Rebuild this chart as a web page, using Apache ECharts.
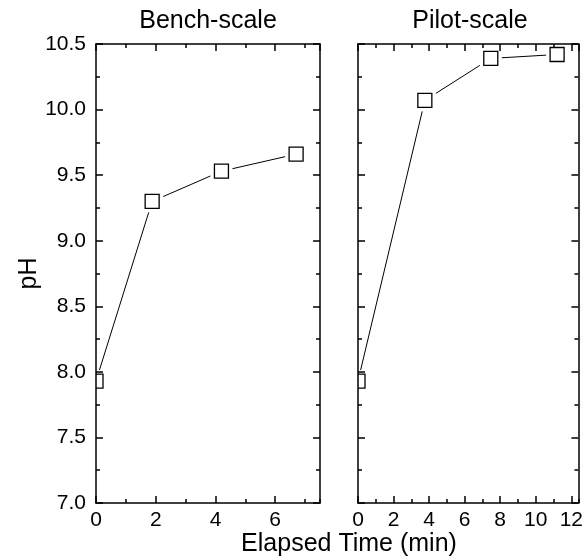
<!DOCTYPE html>
<html>
<head>
<meta charset="utf-8">
<script src="https://cdn.jsdelivr.net/npm/echarts@6/dist/echarts.min.js"></script>
<style>
  html, body { margin: 0; padding: 0; background: #fff; }
  #chart { width: 586px; height: 558px; }
</style>
</head>
<body>
<div id="chart"></div>
<script>
// pH over elapsed time, bench-scale vs pilot-scale runs
const panelTitles = ['Bench-scale', 'Pilot-scale'];
const benchTime = [0, 1.88, 4.2, 6.7];
const benchPH = [7.93, 9.30, 9.53, 9.66];
const pilotTime = [0, 3.76, 7.47, 11.2];
const pilotPH = [7.93, 10.07, 10.39, 10.42];
const xMax = [7.5, 12.4];
const yMin = 7.0, yMax = 10.5;

const FONT = 'Liberation Sans';
const BLACK = '#000';
const TICK_FONT = 21;
const TITLE_FONT = 25;

const grids = [
  { left: 96, top: 44, width: 224, height: 459 },
  { left: 358, top: 44, width: 224, height: 459 }
];

const xAxes = [];
const yAxes = [];

function addX(grid, position, interval, tickLen, showLabel, showLine) {
  xAxes.push({
    type: 'value', gridIndex: grid, position: position,
    min: 0, max: xMax[grid], interval: interval, z: 10,
    axisLine: { show: showLine, onZero: false, lineStyle: { color: BLACK, width: 1.5 } },
    axisTick: { show: true, inside: true, length: tickLen, lineStyle: { color: BLACK, width: 1.5 } },
    axisLabel: {
      show: showLabel, color: BLACK, fontFamily: FONT, fontSize: TICK_FONT, margin: 7,
      showMaxLabel: false
    },
    splitLine: { show: false }
  });
  return xAxes.length - 1;
}

function addY(grid, position, interval, tickLen, showLabel, showLine, name) {
  yAxes.push({
    type: 'value', gridIndex: grid, position: position,
    min: yMin, max: yMax, interval: interval, z: 10,
    name: name || '', nameLocation: 'middle', nameGap: 50, nameRotate: 90,
    nameTextStyle: { color: BLACK, fontFamily: FONT, fontSize: TITLE_FONT },
    axisLine: { show: showLine, onZero: false, lineStyle: { color: BLACK, width: 1.5 } },
    axisTick: { show: true, inside: true, length: tickLen, lineStyle: { color: BLACK, width: 1.5 } },
    axisLabel: {
      show: showLabel, color: BLACK, fontFamily: FONT, fontSize: TICK_FONT, margin: 10,
      formatter: v => v.toFixed(1)
    },
    splitLine: { show: false }
  });
  return yAxes.length - 1;
}

const seriesAxes = [];
for (let g = 0; g < 2; g++) {
  const xb = addX(g, 'bottom', 2, 7, true, true);
  addX(g, 'bottom', 1, 4, false, false);
  addX(g, 'top', 2, 7, false, true);
  addX(g, 'top', 1, 4, false, false);
  const yl = addY(g, 'left', 0.5, 7, g === 0, true, g === 0 ? 'pH' : '');
  addY(g, 'left', 0.25, 4, false, false);
  addY(g, 'right', 0.5, 7, false, true);
  addY(g, 'right', 0.25, 4, false, false);
  seriesAxes.push([xb, yl]);
}

const datasets = [
  benchTime.map((t, i) => [t, benchPH[i]]),
  pilotTime.map((t, i) => [t, pilotPH[i]])
];

// open square markers with a white halo so the connecting line stops short of each box
function squareMarker(params, api) {
  const p = api.coord([api.value(0), api.value(1)]);
  const s = 14, halo = 22;
  return {
    type: 'group',
    children: [
      { type: 'rect', shape: { x: p[0] - halo / 2, y: p[1] - halo / 2, width: halo, height: halo },
        style: { fill: '#fff', stroke: null } },
      { type: 'rect', shape: { x: p[0] - s / 2, y: p[1] - s / 2, width: s, height: s },
        style: { fill: '#fff', stroke: BLACK, lineWidth: 1.3 } }
    ]
  };
}

const series = [];
datasets.forEach((d, g) => {
  series.push({
    type: 'line', xAxisIndex: seriesAxes[g][0], yAxisIndex: seriesAxes[g][1],
    data: d, symbol: 'none', lineStyle: { color: BLACK, width: 1 }, z: 2,
    animation: false
  });
  series.push({
    type: 'custom', xAxisIndex: seriesAxes[g][0], yAxisIndex: seriesAxes[g][1],
    data: d, renderItem: squareMarker, clip: true, z: 3, animation: false
  });
});

const titleStyle = { color: BLACK, fontFamily: FONT, fontSize: TITLE_FONT, fontWeight: 'normal' };

const chart = echarts.init(document.getElementById('chart'), null, { renderer: 'canvas' });
chart.setOption({
  backgroundColor: '#fff',
  animation: false,
  title: [
    { text: panelTitles[0], left: 208, top: 9, textAlign: 'center', padding: 0, textStyle: titleStyle },
    { text: panelTitles[1], left: 470, top: 9, textAlign: 'center', padding: 0, textStyle: titleStyle },
    { text: 'Elapsed Time (min)', left: 349, top: 532, textAlign: 'center', padding: 0, textStyle: titleStyle }
  ],
  grid: grids,
  xAxis: xAxes,
  yAxis: yAxes,
  series: series
});
</script>
</body>
</html>
